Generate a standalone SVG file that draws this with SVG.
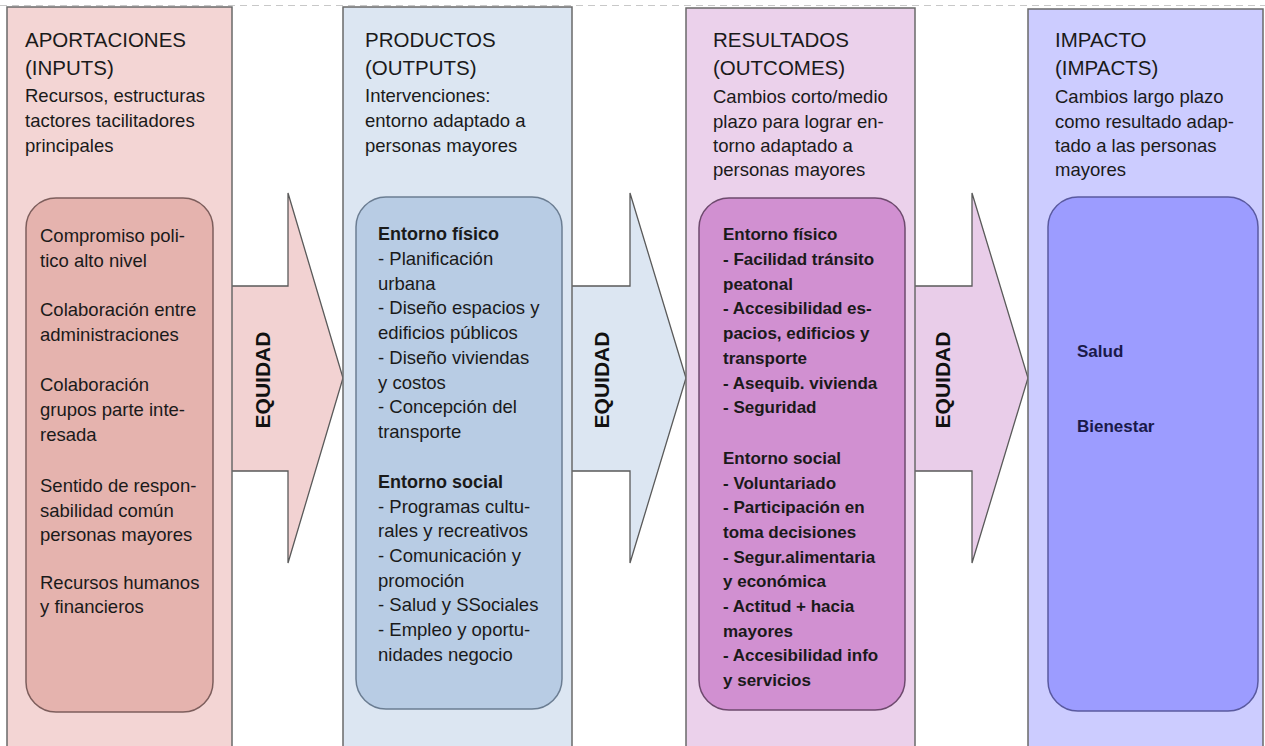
<svg xmlns="http://www.w3.org/2000/svg" width="1265" height="746" viewBox="0 0 1265 746">
<style>
text{font-family:"Liberation Sans",Arial,sans-serif;fill:#1a1a1a}
.h{font-size:20.5px}
.s{font-size:18.5px}
.t{font-size:18.5px}
.b{font-size:18px;font-weight:bold}
.tb{font-size:17px;font-weight:bold}
.eq{font-size:21px;font-weight:bold;fill:#111}
.col{stroke:#6a6a6a;stroke-width:1.5}
.arr{stroke:#5a5a5a;stroke-width:1.3}
</style>
<rect width="1265" height="746" fill="#ffffff"/>
<line x1="0" y1="5.5" x2="1265" y2="5.5" stroke="#c8c8c8" stroke-width="1.2" stroke-dasharray="7,5"/>
<g id="connectors">
<g id="arrow1">
<path class="arr" d="M220 286 L288 286 L288 193 L343 378 L288 563 L288 471 L220 471 Z" fill="#f2d2d2"/>
<text class="eq" transform="translate(270 380) rotate(-90)" text-anchor="middle">EQUIDAD</text>
</g>
<g id="arrow2">
<path class="arr" d="M560 286 L630 286 L630 193 L686 378 L630 563 L630 471 L560 471 Z" fill="#dce6f2"/>
<text class="eq" transform="translate(609 380) rotate(-90)" text-anchor="middle">EQUIDAD</text>
</g>
<g id="arrow3">
<path class="arr" d="M903 286 L972 286 L972 193 L1028 378 L972 563 L972 471 L903 471 Z" fill="#e9cde9"/>
<text class="eq" transform="translate(950 380) rotate(-90)" text-anchor="middle">EQUIDAD</text>
</g>
</g>
<g id="inputs">
<rect class="col" x="7" y="7" width="225" height="760" fill="#f3d5d4"/>
<text class="h" x="25" y="47">APORTACIONES</text>
<text class="h" x="25" y="75">(INPUTS)</text>
<text class="s" x="25" y="102">Recursos, estructuras</text>
<text class="s" x="25" y="127">tactores tacilitadores</text>
<text class="s" x="25" y="152">principales</text>
<rect x="26" y="198" width="187" height="514" rx="30" ry="30" fill="#e5b3ae" stroke="#7d5e5c" stroke-width="1.5"/>
<text class="t" x="40" y="242">Compromiso poli-</text>
<text class="t" x="40" y="267">tico alto nivel</text>
<text class="t" x="40" y="316">Colaboración entre</text>
<text class="t" x="40" y="341">administraciones</text>
<text class="t" x="40" y="391">Colaboración</text>
<text class="t" x="40" y="416">grupos parte inte-</text>
<text class="t" x="40" y="441">resada</text>
<text class="t" x="40" y="492">Sentido de respon-</text>
<text class="t" x="40" y="517">sabilidad común</text>
<text class="t" x="40" y="541">personas mayores</text>
<text class="t" x="40" y="589">Recursos humanos</text>
<text class="t" x="40" y="613">y financieros</text>
</g>
<g id="outputs">
<rect class="col" x="343" y="7" width="229" height="760" fill="#dce6f2"/>
<text class="h" x="365" y="47">PRODUCTOS</text>
<text class="h" x="365" y="75">(OUTPUTS)</text>
<text class="s" x="365" y="102">Intervenciones:</text>
<text class="s" x="365" y="127">entorno adaptado a</text>
<text class="s" x="365" y="152">personas mayores</text>
<rect x="356" y="197" width="206" height="512" rx="30" ry="30" fill="#b8cce4" stroke="#6b7d92" stroke-width="1.5"/>
<text class="b" x="378" y="240">Entorno físico</text>
<text class="t" x="378" y="265">- Planificación</text>
<text class="t" x="378" y="290">urbana</text>
<text class="t" x="378" y="314">- Diseño espacios y</text>
<text class="t" x="378" y="339">edificios públicos</text>
<text class="t" x="378" y="364">- Diseño viviendas</text>
<text class="t" x="378" y="389">y costos</text>
<text class="t" x="378" y="413">- Concepción del</text>
<text class="t" x="378" y="438">transporte</text>
<text class="b" x="378" y="488">Entorno social</text>
<text class="t" x="378" y="513">- Programas cultu-</text>
<text class="t" x="378" y="537">rales y recreativos</text>
<text class="t" x="378" y="562">- Comunicación y</text>
<text class="t" x="378" y="587">promoción</text>
<text class="t" x="378" y="611">- Salud y SSociales</text>
<text class="t" x="378" y="636">- Empleo y oportu-</text>
<text class="t" x="378" y="661">nidades negocio</text>
</g>
<g id="outcomes">
<rect class="col" x="686" y="8" width="229" height="760" fill="#ebd1eb"/>
<text class="h" x="713" y="47">RESULTADOS</text>
<text class="h" x="713" y="75">(OUTCOMES)</text>
<text class="s" x="713" y="103">Cambios corto/medio</text>
<text class="s" x="713" y="128">plazo para lograr en-</text>
<text class="s" x="713" y="152">torno adaptado a</text>
<text class="s" x="713" y="176">personas mayores</text>
<rect x="699" y="198" width="206" height="512" rx="30" ry="30" fill="#d190d1" stroke="#6e4a6e" stroke-width="1.5"/>
<text class="tb" x="723" y="240">Entorno físico</text>
<text class="tb" x="723" y="265">- Facilidad tránsito</text>
<text class="tb" x="723" y="290">peatonal</text>
<text class="tb" x="723" y="314">- Accesibilidad es-</text>
<text class="tb" x="723" y="339">pacios, edificios y</text>
<text class="tb" x="723" y="364">transporte</text>
<text class="tb" x="723" y="389">- Asequib. vivienda</text>
<text class="tb" x="723" y="413">- Seguridad</text>
<text class="tb" x="723" y="464">Entorno social</text>
<text class="tb" x="723" y="489">- Voluntariado</text>
<text class="tb" x="723" y="513">- Participación en</text>
<text class="tb" x="723" y="538">toma decisiones</text>
<text class="tb" x="723" y="563">- Segur.alimentaria</text>
<text class="tb" x="723" y="587">y económica</text>
<text class="tb" x="723" y="612">- Actitud + hacia</text>
<text class="tb" x="723" y="637">mayores</text>
<text class="tb" x="723" y="661">- Accesibilidad info</text>
<text class="tb" x="723" y="686">y servicios</text>
</g>
<g id="impacts">
<rect class="col" x="1028" y="9" width="235" height="760" fill="#ccccff" stroke="#6a6a9a"/>
<text class="h" x="1055" y="47">IMPACTO</text>
<text class="h" x="1055" y="75">(IMPACTS)</text>
<text class="s" x="1055" y="103">Cambios largo plazo</text>
<text class="s" x="1055" y="128">como resultado adap-</text>
<text class="s" x="1055" y="152">tado a las personas</text>
<text class="s" x="1055" y="176">mayores</text>
<rect x="1048" y="197" width="210" height="514" rx="30" ry="30" fill="#9c9cff" stroke="#5a5aa0" stroke-width="1.5"/>
<text class="tb" x="1077" y="357" style="fill:#1a1a4a">Salud</text>
<text class="tb" x="1077" y="432" style="fill:#1a1a4a">Bienestar</text>
</g>
</svg>
